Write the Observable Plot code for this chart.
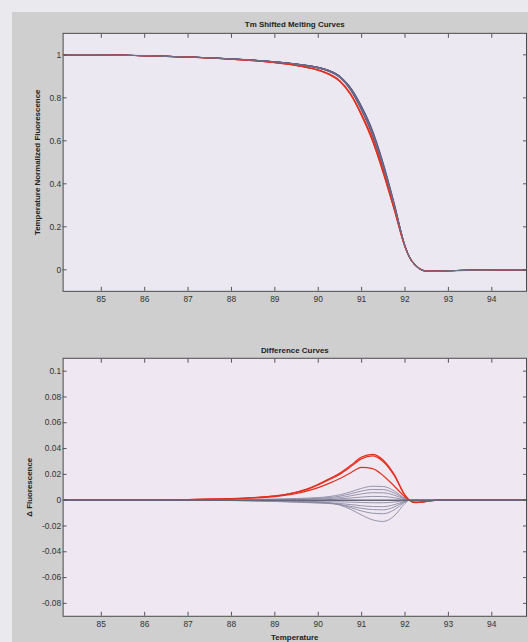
<!DOCTYPE html>
<html>
<head>
<meta charset="utf-8">
<script src="https://cdn.jsdelivr.net/npm/d3@7"></script>
<script src="https://cdn.jsdelivr.net/npm/@observablehq/plot@0.6"></script>
<style>
  html, body { margin: 0; padding: 0; width: 528px; height: 642px; overflow: hidden; background: #e9e9ee; }
  #fig { position: absolute; left: 12px; top: 12px; width: 516px; height: 630px; background: #cfcfcf; }
  .panel { position: absolute; left: 12px; }
  .panel svg { overflow: visible; }
</style>
</head>
<body>
<div id="fig"></div>
<div class="panel" id="top" style="top:12px"></div>
<div class="panel" id="bottom" style="top:330px"></div>
<script>
// ---- data ----
const temps = [84.15, 84.6, 85, 85.5, 86, 86.5, 87, 87.5, 88, 88.5, 89, 89.25, 89.5, 89.75, 90, 90.25, 90.5, 90.75, 91, 91.25, 91.5, 91.75, 92, 92.1, 92.25, 92.5, 92.75, 93, 93.5, 94, 94.5, 94.8];
// reference (median) normalized melting curve
const reference = [1.0, 1.0, 1.0, 0.998, 0.996, 0.993, 0.99, 0.986, 0.981, 0.975, 0.967, 0.962, 0.956, 0.949, 0.94, 0.925, 0.897, 0.84, 0.75, 0.635, 0.48, 0.3, 0.11, 0.06, 0.018, -0.006, -0.006, -0.004, -0.002, -0.001, 0, 0];
// difference curves (reference - sample), red group
const redA = [0, 0, 0, 0, 0, 0.0003, 0.0005, 0.0008, 0.0012, 0.002, 0.0033, 0.0045, 0.0063, 0.0088, 0.0123, 0.0165, 0.021, 0.027, 0.0335, 0.0355, 0.031, 0.02, 0.004, 0, -0.002, -0.001, 0, 0, 0, 0, 0, 0];
const redB = [0, 0, 0, 0, 0, 0.0003, 0.0005, 0.0008, 0.0012, 0.0019, 0.0031, 0.0043, 0.006, 0.0084, 0.0118, 0.0158, 0.0202, 0.026, 0.0322, 0.0343, 0.0298, 0.0192, 0.0037, 0, -0.0018, -0.001, 0, 0, 0, 0, 0, 0];
const redC = [0, 0, 0, 0, 0, 0.0002, 0.0004, 0.0007, 0.001, 0.0017, 0.0028, 0.0038, 0.0052, 0.0072, 0.0097, 0.013, 0.0168, 0.0213, 0.0255, 0.0245, 0.019, 0.011, 0.0025, 0, -0.0015, -0.0008, 0, 0, 0, 0, 0, 0];
// difference curves, gray group
const gray1 = [0, 0, 0, 0, 0, 0, 0, 0.0002, 0.0004, 0.0006, 0.0009, 0.0011, 0.0013, 0.0016, 0.002, 0.0028, 0.0042, 0.0065, 0.0092, 0.0108, 0.0106, 0.0072, 0.0014, 0, 0.0004, 0.0003, 0.0001, 0, 0, 0, 0, 0];
const gray2 = [0, 0, 0, 0, 0, 0, 0, 0.0001, 0.0002, 0.0004, 0.0006, 0.0007, 0.0009, 0.0011, 0.0014, 0.002, 0.0031, 0.005, 0.0071, 0.0083, 0.0082, 0.0056, 0.0011, 0, 0.0003, 0.0002, 0, 0, 0, 0, 0, 0];
const gray3 = [0, 0, 0, 0, 0, 0, 0, 0, 0.0001, 0.0002, 0.0003, 0.0004, 0.0005, 0.0007, 0.0009, 0.0013, 0.002, 0.0034, 0.0049, 0.0058, 0.0057, 0.0039, 0.0008, 0, 0.0002, 0.0001, 0, 0, 0, 0, 0, 0];
const gray4 = [0, 0, 0, 0, 0, 0, 0, 0, 0, 0, -0.0002, -0.0003, -0.0003, -0.0002, 0, 0.0004, 0.001, 0.0017, 0.0024, 0.0029, 0.0028, 0.0019, 0.0004, 0, 0.0001, 0, 0, 0, 0, 0, 0, 0];
const gray5 = [0, 0, 0, 0, 0, 0, 0, 0, -0.0001, -0.0003, -0.0006, -0.0008, -0.001, -0.0012, -0.0013, -0.0013, -0.0013, -0.0015, -0.0018, -0.002, -0.002, -0.0014, -0.0003, 0, -0.0002, -0.0001, 0, 0, 0, 0, 0, 0];
const gray6 = [0, 0, 0, 0, 0, 0, 0, -0.0001, -0.0002, -0.0005, -0.0008, -0.0011, -0.0014, -0.0017, -0.002, -0.0022, -0.0026, -0.0034, -0.0043, -0.0049, -0.005, -0.0035, -0.0007, 0, -0.0003, -0.0002, 0, 0, 0, 0, 0, 0];
const gray7 = [0, 0, 0, 0, 0, 0, 0, -0.0001, -0.0003, -0.0006, -0.001, -0.0013, -0.0016, -0.0019, -0.0022, -0.0026, -0.0034, -0.0048, -0.0063, -0.0073, -0.0075, -0.0053, -0.0011, 0, -0.0004, -0.0002, 0, 0, 0, 0, 0, 0];
const gray8 = [0, 0, 0, 0, 0, 0, 0, -0.0001, -0.0002, -0.0004, -0.0007, -0.0009, -0.0011, -0.0013, -0.0016, -0.0022, -0.0035, -0.0058, -0.0084, -0.0101, -0.0105, -0.0075, -0.0015, 0, -0.0004, -0.0002, 0, 0, 0, 0, 0, 0];
const gray9 = [0, 0, 0, 0, 0, 0, 0, 0, -0.0001, -0.0002, -0.0004, -0.0005, -0.0007, -0.0009, -0.0012, -0.002, -0.0038, -0.0072, -0.0115, -0.0152, -0.0165, -0.0122, -0.0025, 0, -0.0003, -0.0001, 0, 0, 0, 0, 0, 0];

const xTicks = [85, 86, 87, 88, 89, 90, 91, 92, 93, 94];
const yTicksTop = [0, 0.2, 0.4, 0.6, 0.8, 1];
const yTicksBottom = [-0.08, -0.06, -0.04, -0.02, 0, 0.02, 0.04, 0.06, 0.08, 0.1];
const titleTop = "Tm Shifted Melting Curves";
const yLabelTop = "Temperature Normalized Fluorescence";
const titleBottom = "Difference Curves";
const yLabelBottom = "\u0394 Fluorescence";
const xLabelBottom = "Temperature";

// ---- build tables ----
const redSeries = {redA, redB, redC};
const graySeries = {gray1, gray2, gray3, gray4, gray5, gray6, gray7, gray8, gray9};
function rows(group) {
  const out = [];
  for (const [name, diff] of Object.entries(group)) {
    temps.forEach((t, i) => out.push({series: name, t, diff: diff[i], f: reference[i] - diff[i]}));
  }
  return out;
}
const redRows = rows(redSeries);
const grayRows = rows(graySeries);
const refRows = temps.map((t, i) => ({t, f: reference[i], diff: 0}));

const fmt = d => String(Math.round(d * 100) / 100);
const xDomain = [84.12, 94.8];
const font = "'Liberation Sans', Arial, sans-serif";

function axes(yTicks) {
  return [
    Plot.axisX(xTicks, {anchor: "bottom", tickSize: -4, tickPadding: 9, label: null, stroke: "#555", fill: "#333"}),
    Plot.axisX(xTicks, {anchor: "top", tickSize: -4, label: null, tickFormat: () => "", stroke: "#555"}),
    Plot.axisY(yTicks, {anchor: "left", tickSize: -4, tickPadding: 6, label: null, tickFormat: fmt, stroke: "#555", fill: "#333"}),
    Plot.axisY(yTicks, {anchor: "right", tickSize: -4, label: null, tickFormat: () => "", stroke: "#555"})
  ];
}

const topPlot = Plot.plot({
  width: 520, height: 301,
  marginLeft: 51, marginRight: 2, marginTop: 21, marginBottom: 20,
  style: {background: "transparent", fontFamily: font, fontSize: "8.5px", color: "#333"},
  x: {domain: xDomain},
  y: {domain: [-0.1, 1.1]},
  marks: [
    Plot.frame({fill: "#ece8f2", stroke: null}),
    Plot.line(grayRows, {x: "t", y: "f", z: "series", stroke: "#5c5c84", strokeWidth: 1, curve: "monotone-x"}),
    Plot.line(redRows, {x: "t", y: "f", z: "series", stroke: "#e3301f", strokeWidth: 1.1, curve: "monotone-x"}),
    Plot.line(refRows, {x: "t", y: "f", stroke: "#6e6e8e", strokeWidth: 1.2, curve: "monotone-x"}),
    Plot.frame({stroke: "#4a4a4a", strokeWidth: 1}),
    ...axes(yTicksTop),
    Plot.text([titleTop], {frameAnchor: "top", dy: -12, fontWeight: "bold", fontSize: 8, fill: "#222"}),
    Plot.text([yLabelTop], {frameAnchor: "left", textAnchor: "middle", dx: -26, rotate: -90, fontWeight: "bold", fontSize: 8, fill: "#222"})
  ]
});
document.getElementById("top").append(topPlot);

const bottomPlot = Plot.plot({
  width: 520, height: 322,
  marginLeft: 51, marginRight: 2, marginTop: 28, marginBottom: 34,
  style: {background: "transparent", fontFamily: font, fontSize: "8.5px", color: "#333"},
  x: {domain: xDomain},
  y: {domain: [-0.09, 0.11]},
  marks: [
    Plot.frame({fill: "#efe7f1", stroke: null}),
    Plot.line(grayRows, {x: "t", y: "diff", z: "series", stroke: "#8a8aa4", strokeWidth: 0.9, curve: "monotone-x"}),
    Plot.line(redRows, {x: "t", y: "diff", z: "series", stroke: "#e3301f", strokeWidth: 1.2, curve: "monotone-x"}),
    Plot.line(refRows, {x: "t", y: "diff", stroke: "#66667a", strokeWidth: 1.6}),
    Plot.frame({stroke: "#4a4a4a", strokeWidth: 1}),
    ...axes(yTicksBottom),
    Plot.text([titleBottom], {frameAnchor: "top", dy: -11, fontWeight: "bold", fontSize: 8, fill: "#222"}),
    Plot.text([yLabelBottom], {frameAnchor: "left", textAnchor: "middle", dx: -34, rotate: -90, fontWeight: "bold", fontSize: 8, fill: "#222"}),
    Plot.text([xLabelBottom], {frameAnchor: "bottom", dy: 24, fontWeight: "bold", fontSize: 8, fill: "#222"})
  ]
});
document.getElementById("bottom").append(bottomPlot);
</script>
</body>
</html>
